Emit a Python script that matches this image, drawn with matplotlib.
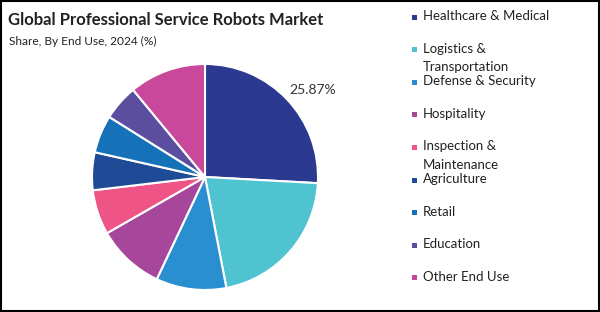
import matplotlib
matplotlib.use('Agg')
import matplotlib.pyplot as plt
from matplotlib.patches import Rectangle

plt.rcParams['font.family'] = ['Lato', 'DejaVu Sans']

labels = ['Healthcare & Medical', 'Logistics &\nTransportation', 'Defense & Security',
          'Hospitality', 'Inspection &\nMaintenance', 'Agriculture', 'Retail',
          'Education', 'Other End Use']
shares = [25.87, 21.1, 10.05, 9.7, 6.4, 5.4, 5.4, 5.1, 10.98]
colors = ['#2B3990', '#4FC3CF', '#2A8FD0', '#A7479B', '#EE5586',
          '#1F4A96', '#1572B9', '#5B4E9E', '#C9489B']

fig = plt.figure(figsize=(6, 3.12), dpi=100)

# pie, centred around (205,177) px with radius ~113 px
ax = fig.add_axes([(205 - 113) / 600, (135 - 113) / 312, 226 / 600, 226 / 312])
wedges, _ = ax.pie(shares, colors=colors, startangle=90, counterclock=False,
                   wedgeprops=dict(edgecolor='white', linewidth=1.5))
ax.set_xlim(-1, 1)
ax.set_ylim(-1, 1)
ax.set_aspect('equal')
ax.text(0.95, 0.77, '%.2f%%' % shares[0], fontsize=10, color='#333333',
        ha='center', va='center')

fig.text(8 / 600, 1 - 20 / 312, 'Global Professional Service Robots Market',
         fontsize=12, fontweight='bold', color='#222222', va='center')
fig.text(9 / 600, 1 - 41 / 312, 'Share, By End Use, 2024 (%)',
         fontsize=8.6, color='#222222', va='center')

# legend drawn by hand: marker lines up with first line of label
y0 = 17
step = 32.6
for i, (lab, col) in enumerate(zip(labels, colors)):
    ypx = y0 + i * step
    fig.patches.append(Rectangle((411.5 / 600, 1 - (ypx + 2.5) / 312), 5 / 600, 5 / 312,
                                 transform=fig.transFigure, facecolor=col,
                                 edgecolor='none'))
    fig.text(423 / 600, 1 - (ypx - 7) / 312, lab, fontsize=9.5, color='#222222',
             va='top', linespacing=1.65)

fig.patches.append(Rectangle((0.001, 0.002), 0.997, 0.995, transform=fig.transFigure,
                             fill=False, edgecolor='black', linewidth=1.5))

fig.savefig('out.png', dpi=100)
